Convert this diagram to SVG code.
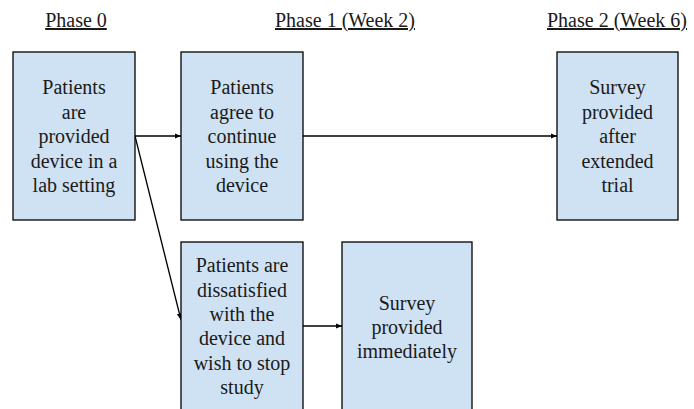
<svg xmlns="http://www.w3.org/2000/svg" width="694" height="409" viewBox="0 0 694 409">
<style>
text{font-family:'Liberation Serif','Times New Roman',serif;font-size:20px;fill:#1a1a1a;text-anchor:middle}
.hdr{text-decoration:underline}
.box{fill:#cfe2f3;stroke:#000;stroke-width:1.3}
.conn{stroke:#000;stroke-width:1.3;fill:none;marker-end:url(#ah)}
</style>
<defs>
<marker id="ah" viewBox="0 0 10 10" refX="10" refY="5" markerWidth="5" markerHeight="5" orient="auto" markerUnits="strokeWidth">
<path d="M0,1 L10,5 L0,9 z" fill="#000"/>
</marker>
</defs>
<rect width="694" height="409" fill="#fff"/>
<g id="headers">
<text class="hdr" x="76" y="27">Phase 0</text>
<text class="hdr" x="345" y="27">Phase 1 (Week 2)</text>
<text class="hdr" x="617" y="27">Phase 2 (Week 6)</text>
</g>
<g id="connectors">
<line class="conn" x1="135" y1="136" x2="181" y2="136"/>
<line class="conn" x1="303" y1="136" x2="557" y2="136"/>
<line class="conn" x1="135" y1="136" x2="181" y2="320"/>
<line class="conn" x1="303" y1="326" x2="342" y2="326"/>
</g>
<g id="n0">
<rect class="box" x="13" y="52" width="122" height="168"/>
<text x="74" y="94">Patients</text>
<text x="74" y="118.5">are</text>
<text x="74" y="143">provided</text>
<text x="74" y="167.5">device in a</text>
<text x="74" y="192">lab setting</text>
</g>
<g id="n1">
<rect class="box" x="181" y="52" width="122" height="168"/>
<text x="242" y="94">Patients</text>
<text x="242" y="118.5">agree to</text>
<text x="242" y="143">continue</text>
<text x="242" y="167.5">using the</text>
<text x="242" y="192">device</text>
</g>
<g id="n2">
<rect class="box" x="557" y="52" width="121" height="168"/>
<text x="617.5" y="94">Survey</text>
<text x="617.5" y="118.5">provided</text>
<text x="617.5" y="143">after</text>
<text x="617.5" y="167.5">extended</text>
<text x="617.5" y="192">trial</text>
</g>
<g id="n3">
<rect class="box" x="181" y="242" width="122" height="190"/>
<text x="242" y="272">Patients are</text>
<text x="242" y="296.5">dissatisfied</text>
<text x="242" y="321">with the</text>
<text x="242" y="345">device and</text>
<text x="242" y="369.5">wish to stop</text>
<text x="242" y="394">study</text>
</g>
<g id="n4">
<rect class="box" x="342" y="242" width="130" height="190"/>
<text x="407" y="310">Survey</text>
<text x="407" y="334">provided</text>
<text x="407" y="358">immediately</text>
</g>
</svg>
